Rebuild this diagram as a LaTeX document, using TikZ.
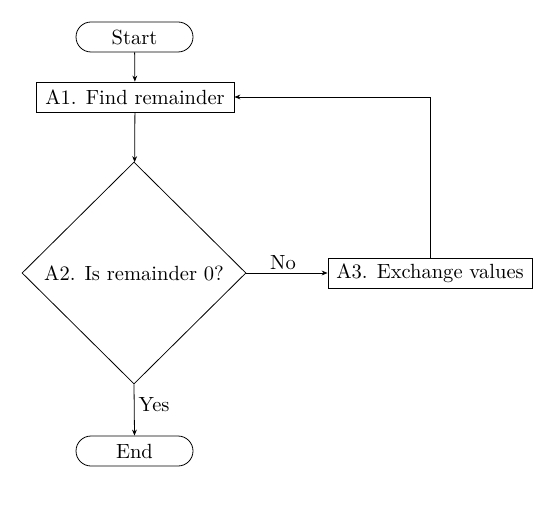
\documentclass[tikz,border=0pt]{standalone}
\usetikzlibrary{shapes.geometric,arrows.meta}
\begin{document}
\begin{tikzpicture}[x=0.5bp,y=-0.5bp,font=\fontsize{10.3}{12}\selectfont,
  term/.style={draw,rounded corners=7.5bp,minimum width=58.5bp,minimum height=15bp,inner sep=0pt},
  proc/.style={draw,minimum height=15bp,inner sep=0pt},
  dec/.style={draw,diamond,minimum width=112bp,minimum height=111bp,inner sep=0pt},
  flow/.style={-{Stealth[length=3pt,width=2.4pt]},line width=0.4pt}]
\useasboundingbox (0,0) rectangle (554,518);
\node[term] (start) at (134.5,37) {Start};
\node[proc,minimum width=99bp] (a1) at (135,97) {A1. Find remainder};
\node[dec] (a2) at (134,273) {A2. Is remainder 0?};
\node[proc,minimum width=102bp] (a3) at (430,273) {A3. Exchange values};
\node[term] (end) at (134.5,451) {End};
\draw[flow] (start) -- (a1);
\draw[flow] (a1) -- (a2);
\draw[flow] (a2.east) -- node[above,inner sep=1.5pt,xshift=-2bp] {No} (a3.west);
\draw[flow] (a2.south) -- node[right,pos=0.4,inner sep=2pt] {Yes} (end.north);
\draw[flow] (a3.north) |- (a1.east);
\end{tikzpicture}
\end{document}
